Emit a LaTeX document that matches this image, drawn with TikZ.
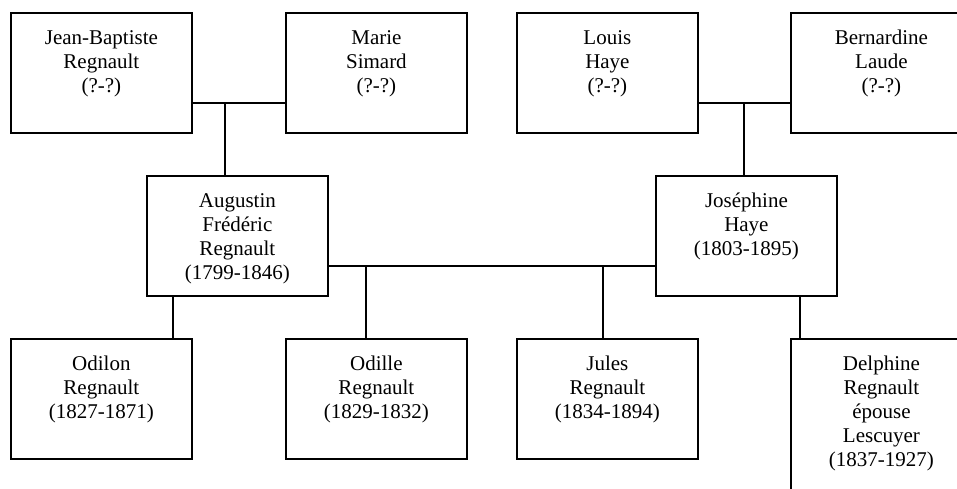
\documentclass[tikz,border=0pt]{standalone}
\usepackage{fontspec}
\setmainfont{Liberation Serif}
\begin{document}
\begin{tikzpicture}[x=1pt,y=-1pt,
  box/.style={draw, line width=1.8pt, minimum width=181pt, minimum height=120pt, inner sep=0pt, anchor=north west},
  lbl/.style={anchor=north, align=center, inner sep=0pt, font=\fontsize{21}{24}\selectfont, yshift=-18pt},
  conn/.style={line width=1.8pt}]
\useasboundingbox (0,0) rectangle (957,488);
\clip (0,0) rectangle (957,488);
% boxes
\node[box] (jb) at (10,12) {};
\node[box] (ms) at (285,12) {};
\node[box] (lh) at (516,12) {};
\node[box] (bl) at (790,12) {};
\node[box] (afr) at (146,175) {};
\node[box] (jh) at (655,175) {};
\node[box] (or) at (10,338) {};
\node[box] (oe) at (285,338) {};
\node[box] (jr) at (516,338) {};
\node[box, minimum height=170pt] (dr) at (790,338) {};
% labels
\node[lbl] (jbt) at (jb.north) {Jean-Baptiste\\Regnault\\(?-?)};
\node[lbl] (mst) at (ms.north) {Marie\\Simard\\(?-?)};
\node[lbl] (lht) at (lh.north) {Louis\\Haye\\(?-?)};
\node[lbl] (blt) at (bl.north) {Bernardine\\Laude\\(?-?)};
\node[lbl] (afrt) at (afr.north) {Augustin\\Frédéric\\Regnault\\(1799-1846)};
\node[lbl] (jht) at (jh.north) {Joséphine\\Haye\\(1803-1895)};
\node[lbl] (ort) at (or.north) {Odilon\\Regnault\\(1827-1871)};
\node[lbl] (oet) at (oe.north) {Odille\\Regnault\\(1829-1832)};
\node[lbl] (jrt) at (jr.north) {Jules\\Regnault\\(1834-1894)};
\node[lbl] (drt) at (dr.north) {Delphine\\Regnault\\épouse\\Lescuyer\\(1837-1927)};
% connectors
\coordinate (m1) at (225,103);
\coordinate (m2) at (744,103);
\coordinate (m3) at (366,266);
\coordinate (m4) at (603,266);
\coordinate (c1) at (173,0);
\coordinate (c2) at (800,0);
\draw[conn] (jb.east |- m1) -- (ms.west |- m1);
\draw[conn] (m1) -- (m1 |- afr.north);
\draw[conn] (lh.east |- m2) -- (bl.west |- m2);
\draw[conn] (m2) -- (m2 |- jh.north);
\draw[conn] (afr.east |- m3) -- (jh.west |- m3);
\draw[conn] (m3) -- (m3 |- oe.north);
\draw[conn] (m4) -- (m4 |- jr.north);
\draw[conn] (c1 |- afr.south) -- (c1 |- or.north);
\draw[conn] (c2 |- jh.south) -- (c2 |- dr.north);
\end{tikzpicture}
\end{document}
